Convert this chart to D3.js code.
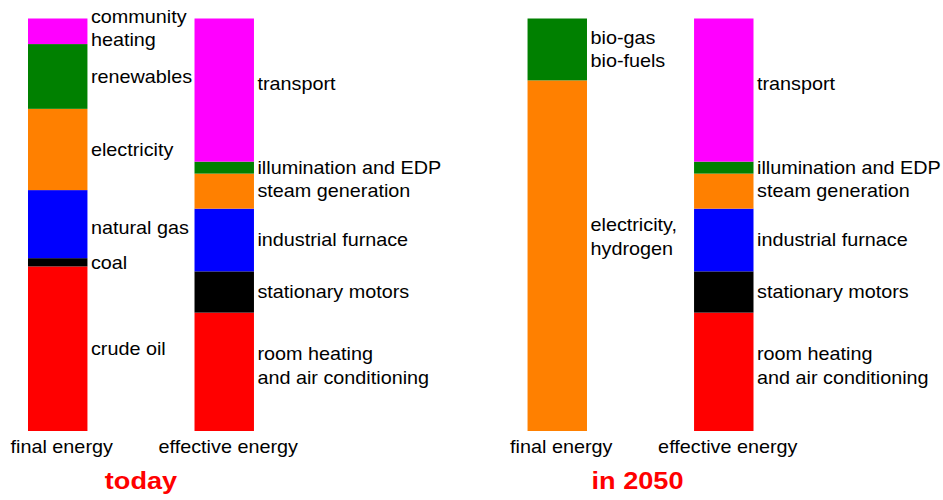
<!DOCTYPE html>
<html>
<head>
<meta charset="utf-8">
<script src="https://cdn.jsdelivr.net/npm/d3@7"></script>
<style>
  body { margin: 0; background: #fff; }
  text { font-family: "Liberation Sans", Arial, sans-serif; }
</style>
</head>
<body>
<svg></svg>
<script>
// bar slots (the empty slot keeps the gap between the two groups)
const slots = ["today-final", "today-effective", "gap", "2050-final", "2050-effective"];
const barTitles = ["final energy", "effective energy", "", "final energy", "effective energy"];
const groupTitles = ["today", "in 2050"];

// share of total (%) from bottom to top
const todayFinalLabels = [["crude oil"], ["coal"], ["natural gas"], ["electricity"], ["renewables"], ["community", "heating"]];
const todayFinalValues = [39.9, 2.0, 16.5, 19.7, 15.7, 6.2];

const effectiveLabels = [["room heating", "and air conditioning"], ["stationary motors"], ["industrial furnace"],
  ["steam generation"], ["illumination and EDP"], ["transport"]];
const effectiveValues = [28.7, 10.0, 15.2, 8.5, 2.9, 34.7];

const futureFinalLabels = [["electricity,", "hydrogen"], ["bio-gas", "bio-fuels"]];
const futureFinalValues = [85, 15];

const width = 943, height = 500;
const stretch = 1.1; // text in the picture is a bit wide

const mainColors = ["#ff0000", "#000000", "#0000ff", "#ff8000", "#008000", "#ff00ff"];
const futureColors = ["#ff8000", "#008000"];

// small vertical nudges for labels that are not centred on their segment
const nudge = {"electricity,": -19, "transport": -6, "natural gas": 4, "room heating": -6, "community": -3};

const bars = [
  {slot: "today-final", labels: todayFinalLabels, values: todayFinalValues, colors: mainColors},
  {slot: "today-effective", labels: effectiveLabels, values: effectiveValues, colors: mainColors},
  {slot: "2050-final", labels: futureFinalLabels, values: futureFinalValues, colors: futureColors},
  {slot: "2050-effective", labels: effectiveLabels, values: effectiveValues, colors: mainColors}
];

const x = d3.scaleBand()
  .domain(slots)
  .range([28, 753.5])
  .paddingInner(0.643)
  .paddingOuter(0);

const y = d3.scaleLinear()
  .domain([0, 100])
  .range([431, 18.5]);

const svg = d3.select("svg")
  .attr("width", width)
  .attr("height", height)
  .attr("viewBox", [0, 0, width, height]);

const lineH = 23.5;

bars.forEach(bar => {
  const ends = Array.from(d3.cumsum(bar.values));
  const segs = bar.values.map((v, i) => ({
    y0: i ? ends[i - 1] : 0,
    y1: ends[i],
    label: bar.labels[i],
    color: bar.colors[i]
  }));

  const g = svg.append("g");

  g.selectAll("rect")
    .data(segs)
    .join("rect")
    .attr("x", x(bar.slot))
    .attr("y", d => y(d.y1))
    .attr("width", x.bandwidth())
    .attr("height", d => y(d.y0) - y(d.y1))
    .attr("fill", d => d.color);

  g.selectAll("text")
    .data(segs)
    .join("text")
    .attr("transform", d => {
      const cy = (y(d.y0) + y(d.y1)) / 2 + (nudge[d.label[0]] || 0) - (d.label.length - 1) * lineH / 2;
      return `translate(${x(bar.slot) + x.bandwidth() + 3.5},${cy}) scale(${stretch},1)`;
    })
    .attr("font-size", 18)
    .attr("fill", "#000")
    .selectAll("tspan")
    .data(d => d.label)
    .join("tspan")
    .attr("x", 0)
    .attr("y", (d, i) => i * lineH)
    .attr("dy", "0.35em")
    .text(d => d);
});

// bar captions under each bar
svg.append("g")
  .selectAll("text")
  .data(slots.filter(s => s !== "gap"))
  .join("text")
  .attr("transform", s => `translate(${x(s) + x.bandwidth() / 2 + 4},453) scale(${stretch},1)`)
  .attr("text-anchor", "middle")
  .attr("font-size", 18)
  .text(s => barTitles[slots.indexOf(s)]);

// group titles, centred between the two bars of each group
const groupCenters = [
  (x("today-final") + x("today-effective") + x.bandwidth()) / 2,
  (x("2050-final") + x("2050-effective") + x.bandwidth()) / 2
];

svg.append("g")
  .selectAll("text")
  .data(groupTitles)
  .join("text")
  .attr("transform", (d, i) => `translate(${groupCenters[i] - i * 3},489) scale(1.18,1)`)
  .attr("text-anchor", "middle")
  .attr("font-size", 23)
  .attr("font-weight", "bold")
  .attr("fill", "#ff0000")
  .text(d => d);
</script>
</body>
</html>
